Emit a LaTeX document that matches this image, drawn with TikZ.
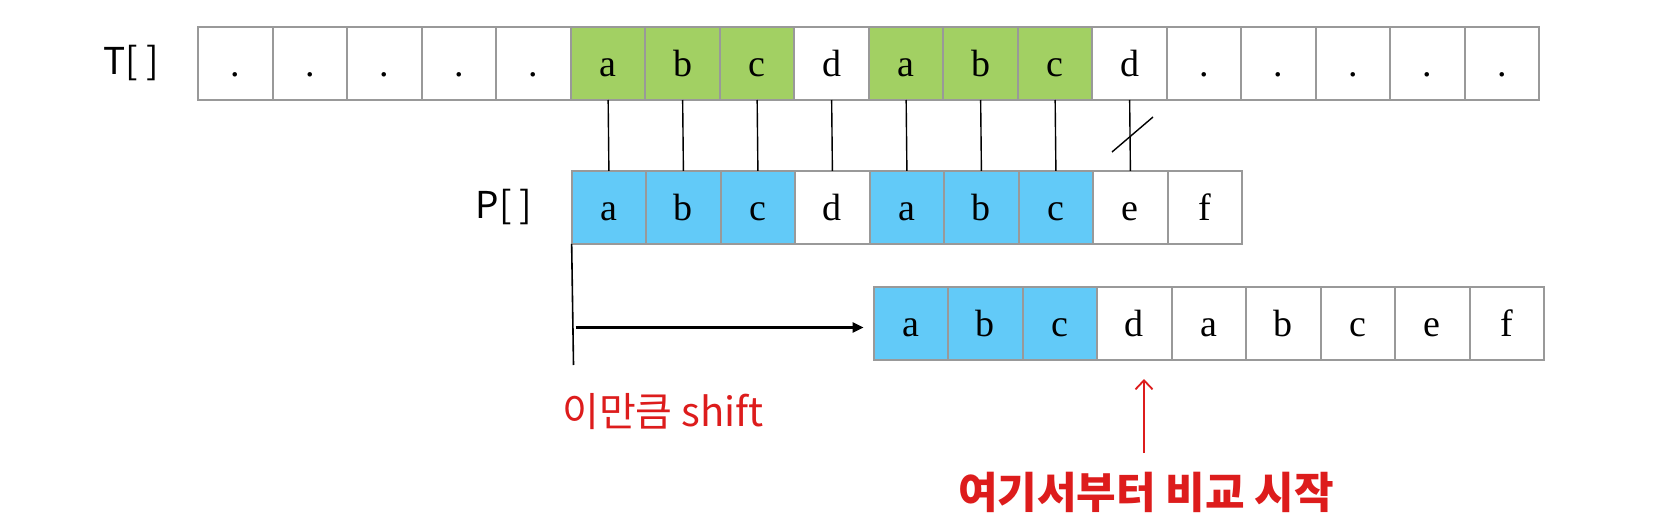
\documentclass[tikz,border=0pt]{standalone}
\usepackage{fontspec}
\setmainfont{Liberation Serif}
\newfontfamily\kr{Noto Sans CJK KR}
\usetikzlibrary{arrows.meta}
\definecolor{cellgray}{HTML}{999999}
\definecolor{tgreen}{HTML}{A2D063}
\definecolor{pblue}{HTML}{62CAF8}
\definecolor{redtxt}{HTML}{DD1C1C}
\tikzset{
  cell/.style={draw=cellgray, line width=2pt, minimum width=74.5pt, minimum height=73pt,
    inner sep=0pt, outer sep=0pt, text height=26pt, text depth=0pt,
    font=\fontsize{38}{40}\selectfont},
  g/.style={cell, fill=tgreen},
  b/.style={cell, fill=pblue},
  w/.style={cell, fill=white},
  link/.style={line width=1.4pt, black},
  lbl/.style={font=\kr\fontsize{37}{40}\selectfont, inner sep=0pt},
}
\begin{document}
\begin{tikzpicture}[x=1pt,y=-1pt]
\useasboundingbox (0,0) rectangle (1664,532);
\fill[white] (0,0) rectangle (1664,532);
% T row
\foreach \i/\t/\s in {1/./w,2/./w,3/./w,4/./w,5/./w,6/a/g,7/b/g,8/c/g,9/d/w,10/a/g,11/b/g,12/c/g,13/d/w,14/./w,15/./w,16/./w,17/./w,18/./w}
  \node[\s] (t\i) at ({235.65+(\i-1)*74.5},63.5) {\t};
% P row
\foreach \i/\t/\s in {1/a/b,2/b/b,3/c/b,4/d/w,5/a/b,6/b/b,7/c/b,8/e/w,9/f/w}
  \node[\s] (p\i) at ({608.9+(\i-1)*74.5},207.3) {\t};
% shifted row
\foreach \i/\t/\s in {1/a/b,2/b/b,3/c/b,4/d/w,5/a/w,6/b/w,7/c/w,8/e/w,9/f/w}
  \node[\s] (s\i) at ({910.75+(\i-1)*74.5},323.7) {\t};
% labels
\node[lbl] (tl) at (131,63) {T[ ]};
\node[lbl] (pl) at (504,207) {P[ ]};
% links
\foreach \i [evaluate=\i as \j using int(\i+5)] in {1,...,8}
  \draw[link] (t\j.south) -- (p\i.north);
\coordinate (sl1) at (1112,152);
\coordinate (sl2) at (1153,117);
\draw[link] (sl1) -- (sl2);
% shift marker
\coordinate (vtop) at (p1.south west);
\coordinate (vbot) at (573.5,365);
\draw[line width=1.6pt] (vtop) -- (vbot);
\coordinate (ast) at (575.5,327.5);
\draw[line width=2.6pt, -{Triangle[length=11pt,width=10pt]}, shorten >=10pt] (ast) -- (s1.west |- ast);
% red arrow
\coordinate (rbot) at (1144,453);
\coordinate (rtop) at (1144,379);
\draw[redtxt, line width=1.8pt, -{Straight Barb[length=9pt,width=17pt]}] (rbot) -- (rtop);
% red texts
\node[lbl, text=redtxt, font=\kr\fontsize{40}{42}\selectfont] (shift) at (663,412) {이만큼 shift};
\node[lbl, text=redtxt, font=\kr\bfseries\fontsize{43}{45}\selectfont] (cmp) at (1146,492) {여기서부터 비교 시작};
\end{tikzpicture}
\end{document}
